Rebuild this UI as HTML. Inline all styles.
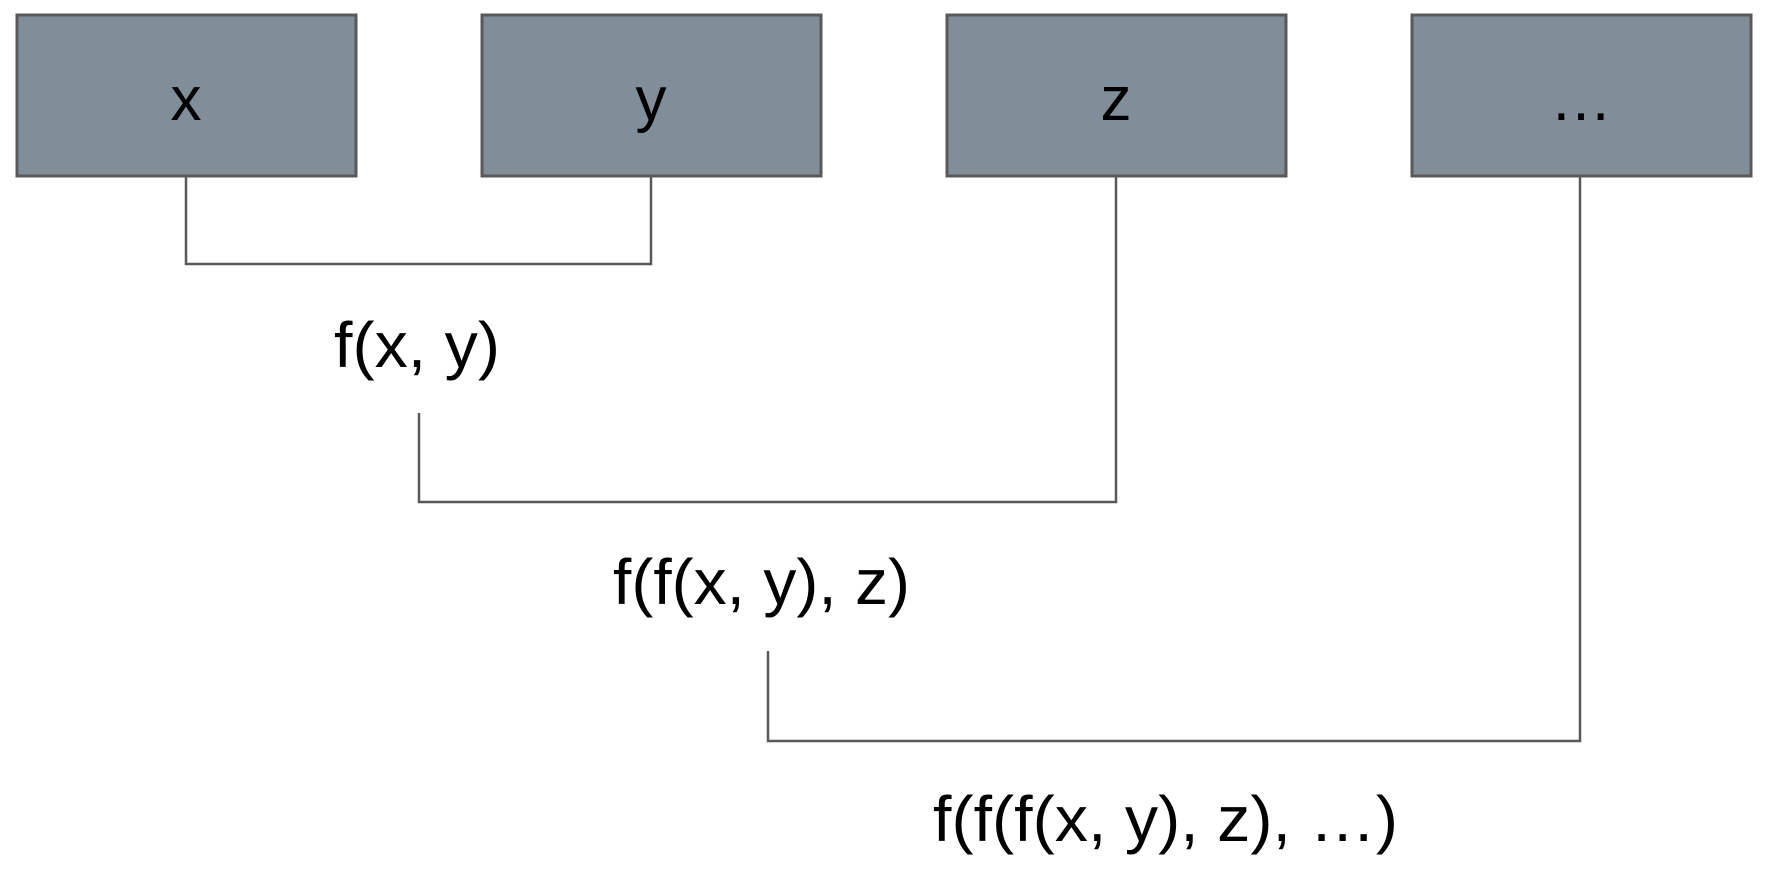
<!DOCTYPE html>
<html><head><style>html,body{margin:0;padding:0;background:#fff;}svg{display:block;}</style></head>
<body>
<svg width="1770" height="874" viewBox="0 0 1770 874" xmlns="http://www.w3.org/2000/svg">
<g fill="#7f8e99" stroke="#595959" stroke-width="3">
<rect x="17" y="15" width="339" height="161"/>
<rect x="482" y="15" width="339" height="161"/>
<rect x="947" y="15" width="339" height="161"/>
<rect x="1412" y="15" width="339" height="161"/>
</g>
<g fill="none" stroke="#595959" stroke-width="2.5">
<polyline points="186,176 186,264 651,264 651,176"/>
<polyline points="419,413 419,502 1116,502 1116,176"/>
<polyline points="768,651 768,741 1580,741 1580,176"/>
</g>
<g font-family="Liberation Sans, sans-serif" font-size="62" fill="#000" text-anchor="middle">
<text x="186" y="120">x</text>
<text x="651" y="120">y</text>
<text x="1116" y="120">z</text>
<text x="1581" y="120">…</text>
</g>
<g font-family="Liberation Sans, sans-serif" font-size="64" fill="#000">
<text x="334" y="367" textLength="166" lengthAdjust="spacingAndGlyphs">f(x, y)</text>
<text x="613" y="604" textLength="297" lengthAdjust="spacingAndGlyphs">f(f(x, y), z)</text>
<text x="933" y="841" textLength="465" lengthAdjust="spacingAndGlyphs">f(f(f(x, y), z), …)</text>
</g>
</svg>
</body></html>
